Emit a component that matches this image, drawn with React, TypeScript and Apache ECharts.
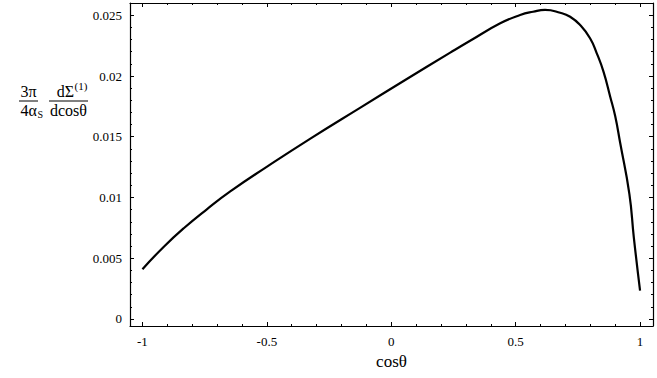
import React, { useEffect, useRef } from "react";
import * as echarts from "echarts";

const xValues = [-1, -0.914, -0.834, -0.74, -0.647, -0.499, -0.325, -0.124, 0.056, 0.237, 0.317, 0.438, 0.518, 0.57, 0.618, 0.679, 0.719, 0.759, 0.799, 0.826, 0.853, 0.88, 0.9, 0.92, 0.957, 0.975, 1.0];
const yValues = [0.0041, 0.00595, 0.00747, 0.00905, 0.0105, 0.01254, 0.01485, 0.0174, 0.01967, 0.02192, 0.0229, 0.02434, 0.02502, 0.02529, 0.02544, 0.02521, 0.02488, 0.0242, 0.02311, 0.02187, 0.02036, 0.0183, 0.0167, 0.0145, 0.0103, 0.0067, 0.00233];

const xMajorTicks = [-1, -0.5, 0, 0.5, 1];
const xMinorTicks = [-1, -0.9, -0.8, -0.7, -0.6, -0.5, -0.4, -0.3, -0.2, -0.1, 0, 0.1, 0.2, 0.3, 0.4, 0.5, 0.6, 0.7, 0.8, 0.9, 1];
const yMajorTicks = [0, 0.005, 0.01, 0.015, 0.02, 0.025];
const yMinorTicks = [0, 0.001, 0.002, 0.003, 0.004, 0.005, 0.006, 0.007, 0.008, 0.009, 0.01, 0.011, 0.012, 0.013, 0.014, 0.015, 0.016, 0.017, 0.018, 0.019, 0.02, 0.021, 0.022, 0.023, 0.024, 0.025, 0.026];

const X_MIN = -1.05;
const X_MAX = 1.052;
const Y_MIN = -0.00058;
const Y_MAX = 0.02601;

const FONT = "Liberation Serif";

export default function App() {
  const ref = useRef<HTMLDivElement>(null);
  useEffect(() => {
    document.body.style.margin = "0";
    const chart = echarts.init(ref.current!, null, { renderer: "svg" });
    const line = { show: true, onZero: false, lineStyle: { color: "#000", width: 1.2 } };
    const noLine = { show: false, onZero: false };
    const mkAxis = (
      min: number,
      max: number,
      pos: string,
      ticks: number[],
      len: number,
      labels: boolean,
      showLine: boolean,
      margin: number
    ) => ({
      type: "value",
      position: pos,
      min,
      max,
      splitLine: { show: false },
      axisLine: showLine ? line : noLine,
      axisTick: { show: true, inside: true, length: len, customValues: ticks, lineStyle: { color: "#000", width: 1 } },
      axisLabel: labels
        ? { show: true, customValues: ticks, fontFamily: FONT, fontSize: 13, color: "#000", margin }
        : { show: false },
    });
    const gtext = (text: string, x: number, y: number, size: number, align = "center") => ({
      type: "text",
      x,
      y,
      style: { text, fontFamily: FONT, fontSize: size, fill: "#000", align, verticalAlign: "middle" },
    });
    chart.setOption({
      animation: false,
      grid: { left: 130, right: 4, top: 3, bottom: 52, containLabel: false },
      xAxis: [
        {
          ...mkAxis(X_MIN, X_MAX, "bottom", xMajorTicks, 4, true, true, 9),
          name: "cosθ",
          nameLocation: "middle",
          nameGap: 25,
          nameTextStyle: { fontFamily: FONT, fontSize: 17, color: "#000" },
        },
        mkAxis(X_MIN, X_MAX, "bottom", xMinorTicks, 2, false, false, 0),
        mkAxis(X_MIN, X_MAX, "top", xMajorTicks, 4, false, true, 0),
        mkAxis(X_MIN, X_MAX, "top", xMinorTicks, 2, false, false, 0),
      ],
      yAxis: [
        mkAxis(Y_MIN, Y_MAX, "left", yMajorTicks, 4, true, true, 8),
        mkAxis(Y_MIN, Y_MAX, "left", yMinorTicks, 2, false, false, 0),
        mkAxis(Y_MIN, Y_MAX, "right", yMajorTicks, 4, false, true, 0),
        mkAxis(Y_MIN, Y_MAX, "right", yMinorTicks, 2, false, false, 0),
      ],
      graphic: [
        gtext("3π", 28.5, 91, 16),
        { type: "line", shape: { x1: 19, y1: 101, x2: 38, y2: 101 }, style: { stroke: "#000", lineWidth: 1 } },
        gtext("4α", 37, 110, 16, "right"),
        gtext("S", 37.5, 114, 10, "left"),
        gtext("dΣ", 74, 91, 16, "right"),
        gtext("(1)", 74.5, 86, 11, "left"),
        { type: "line", shape: { x1: 49, y1: 101, x2: 88, y2: 101 }, style: { stroke: "#000", lineWidth: 1 } },
        gtext("dcosθ", 68.5, 110, 16),
      ],
      series: [
        {
          type: "line",
          xAxisIndex: 0,
          yAxisIndex: 0,
          data: xValues.map((x, i) => [x, yValues[i]]),
          smooth: 0.5,
          showSymbol: false,
          symbol: "none",
          lineStyle: { color: "#000", width: 2.2 },
        },
      ],
    });
    return () => chart.dispose();
  }, []);
  return <div ref={ref} style={{ width: 657, height: 378 }} />;
}
